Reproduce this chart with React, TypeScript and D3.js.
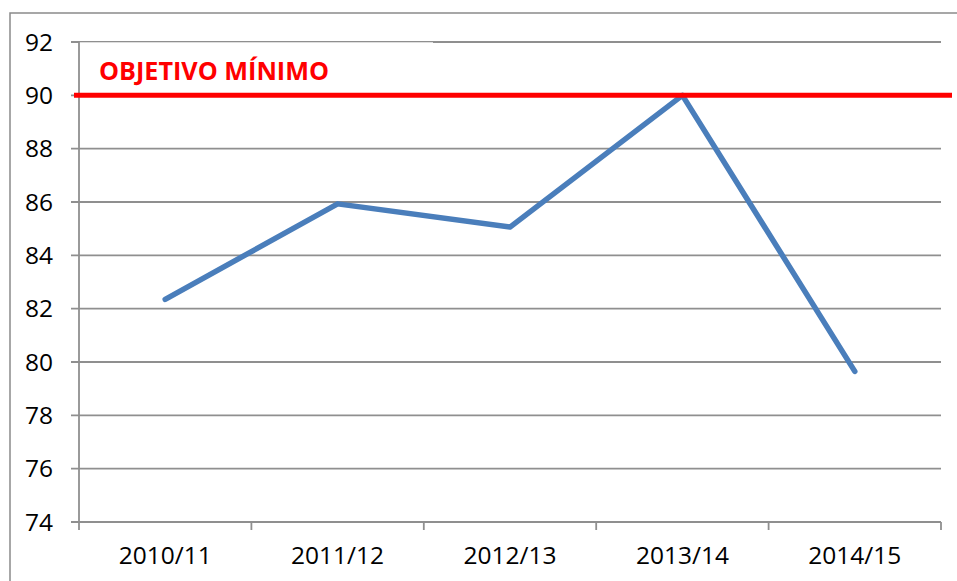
import React from "react";
import * as d3 from "d3";

const categories = ["2010/11", "2011/12", "2012/13", "2013/14", "2014/15"];
const values = [82.35, 85.93, 85.06, 90.0, 79.65];
const yTicks = [74, 76, 78, 80, 82, 84, 86, 88, 90, 92];
const targetValue = 90;
const targetLabel = "OBJETIVO MÍNIMO";

export default function App() {
  const W = 957, H = 581;
  const left = 79, right = 941, top = 42, bottom = 522;
  const x = d3.scaleBand<string>().domain(categories).range([left, right]);
  const y = d3.scaleLinear().domain([74, 92]).range([bottom, top]);
  const line = d3
    .line<number>()
    .x((_, i) => (x(categories[i]) as number) + x.bandwidth() / 2)
    .y((d) => y(d));
  const boundaries = [...categories.map((c) => x(c) as number), right];
  const font = "'Open Sans', sans-serif";
  const grid = "#8f8f8f";
  return (
    <svg
      width={W}
      height={H}
      style={{ position: "absolute", left: 0, top: 0, background: "#fff" }}
    >
      <rect x={10} y={13} width={W} height={H} fill="#fff" stroke="#8a8a8a" strokeWidth={1.5} />
      {yTicks.map((t) => (
        <g key={t}>
          <line x1={left - 8} x2={right} y1={y(t)} y2={y(t)} stroke={grid} strokeWidth={1.8} />
          <text
            x={53}
            y={y(t)}
            dy="0.36em"
            textAnchor="end"
            fontFamily={font}
            fontSize={24.5}
            fill="#000"
          >
            {t}
          </text>
        </g>
      ))}
      <rect x={left} y={y(92) + 0.3} width={433 - left} height={40} fill="#fff" />
      <line x1={left} x2={left} y1={top} y2={bottom} stroke={grid} strokeWidth={1.8} />
      {boundaries.map((b, i) => (
        <line key={i} x1={b} x2={b} y1={bottom} y2={bottom + 8} stroke={grid} strokeWidth={1.8} />
      ))}
      {categories.map((c) => (
        <text
          key={c}
          x={(x(c) as number) + x.bandwidth() / 2}
          y={564}
          textAnchor="middle"
          fontFamily={font}
          fontSize={24.5}
          fill="#000"
        >
          {c}
        </text>
      ))}
      <path
        d={line(values) || ""}
        fill="none"
        stroke="#4a7ebb"
        strokeWidth={5.5}
        strokeLinejoin="round"
        strokeLinecap="round"
      />
      <line x1={left - 5} x2={right + 11} y1={y(targetValue)} y2={y(targetValue)} stroke="#ff0000" strokeWidth={5} />
      <text x={99} y={80} fontFamily={font} fontWeight="bold" fontSize={25.2} fill="#ff0000">
        {targetLabel}
      </text>
    </svg>
  );
}
